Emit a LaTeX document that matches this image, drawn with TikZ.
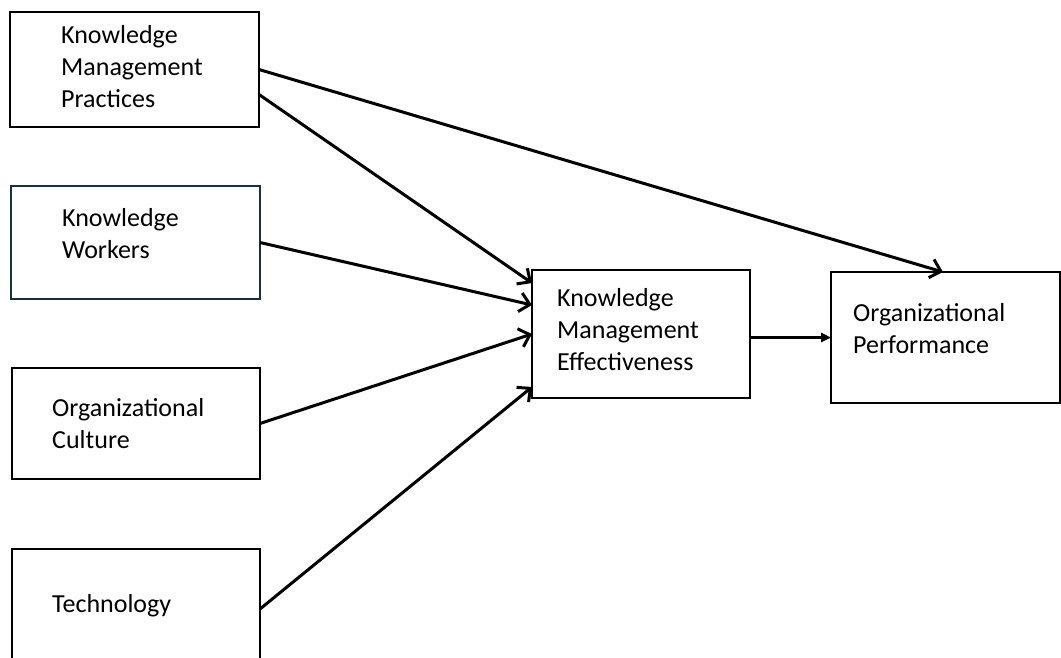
\documentclass[tikz,border=0pt]{standalone}
\usepackage{fontspec}
\setmainfont{Carlito}
\usetikzlibrary{arrows.meta}
\definecolor{navyedge}{HTML}{1F2E3F}
\begin{document}
\begin{tikzpicture}[x=1pt,y=-1pt,
  box/.style={draw=black,line width=2.4pt,inner sep=0pt,outer sep=0pt},
  lbl/.style={font=\fontsize{26}{32}\selectfont,align=left,inner sep=0pt,anchor=base west},
  arr/.style={line width=3pt,-{Straight Barb[length=10pt,width=19pt,line width=3pt]}},
  link/.style={line width=3pt,-{Triangle[length=10pt,width=9pt]}}]
\useasboundingbox (0,0) rectangle (1061,657);
\clip (0,0) rectangle (1061,657);
\fill[white] (0,0) rectangle (1061,657);

% factor boxes on the left
\node[box,minimum width=249pt,minimum height=115pt] (kmp) at (134.5,69.5) {};
\node[box,draw=navyedge,minimum width=249pt,minimum height=113pt] (kw) at (135.5,242.5) {};
\node[box,minimum width=248pt,minimum height=111pt] (oc) at (136,423.5) {};
\node[box,minimum width=248pt,minimum height=120pt] (tech) at (136,609) {};

% mediating and outcome boxes
\node[box,minimum width=218pt,minimum height=128pt] (kme) at (641,334) {};
\node[box,minimum width=229pt,minimum height=131pt] (op) at (945.5,337.5) {};

% box texts (anchored at the baseline of the last line)
\node[lbl] (kmpT) at (61,107) {Knowledge\\Management\\Practices};
\node[lbl] (kwT) at (62,258) {Knowledge\\Workers};
\node[lbl] (ocT) at (52,448) {Organizational\\Culture};
\node[lbl] (techT) at (52,612) {Technology};
\node[lbl] (kmeT) at (557,370) {Knowledge\\Management\\Effectiveness};
\node[lbl] (opT) at (853,353) {Organizational\\Performance};

% connectors
\draw[arr] (kmp.east) -- ([xshift=-2.5pt]op.north);
\draw[arr] ([yshift=-25pt]kmp.east) -- ([yshift=-13pt]kme.north west);
\draw[arr] (kw.east) -- ([yshift=-35pt]kme.north west);
\draw[arr] (oc.east) -- (kme.west);
\draw[arr] (tech.east) -- ([yshift=11pt]kme.south west);
\draw[link] (op.west -| kme.east) -- (op.west);
\end{tikzpicture}
\end{document}
